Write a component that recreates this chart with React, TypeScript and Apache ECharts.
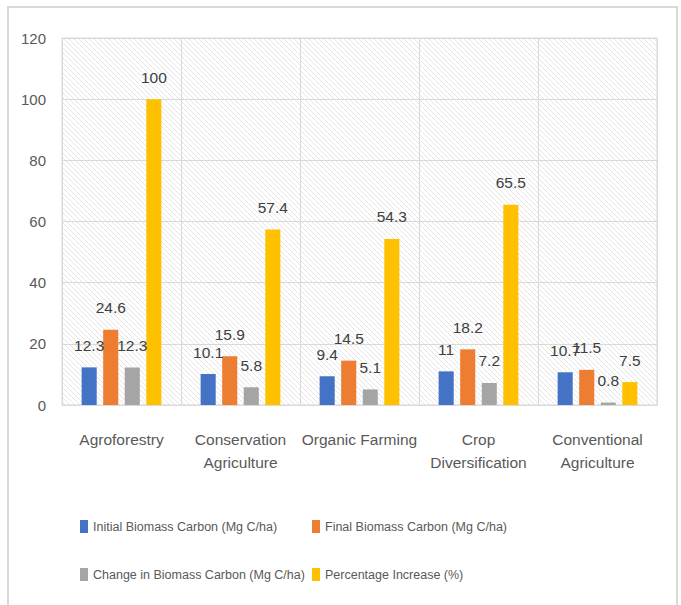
import React, { useEffect, useRef } from "react";
import * as echarts from "echarts";

const categories = ["Agroforestry", "Conservation Agriculture", "Organic Farming", "Crop Diversification", "Conventional Agriculture"];
const categoryTickLabels = ["Agroforestry", "Conservation\nAgriculture", "Organic Farming", "Crop\nDiversification", "Conventional\nAgriculture"];
const seriesNames = [
  "Initial Biomass Carbon (Mg C/ha)",
  "Final Biomass Carbon (Mg C/ha)",
  "Change in Biomass Carbon (Mg C/ha)",
  "Percentage Increase (%)",
];
const initialCarbon = [12.3, 10.1, 9.4, 11, 10.7];
const finalCarbon = [24.6, 15.9, 14.5, 18.2, 11.5];
const changeCarbon = [12.3, 5.8, 5.1, 7.2, 0.8];
const percentIncrease = [100, 57.4, 54.3, 65.5, 7.5];
const colors = ["#4472C4", "#ED7D31", "#A5A5A5", "#FFC000"];

const FONT = "'Liberation Sans', Arial, sans-serif";

const hatchSvg =
  "data:image/svg+xml;utf8," +
  encodeURIComponent(
    "<svg xmlns='http://www.w3.org/2000/svg' width='5' height='5'><rect width='5' height='5' fill='white'/><path d='M-1,-1 L6,6 M-1,4 L1,6 M4,-1 L6,1' stroke='#dedede' stroke-width='0.8'/></svg>"
  );

export default function App() {
  const ref = useRef<HTMLDivElement>(null);
  useEffect(() => {
    if (!ref.current) return;
    const chart = echarts.init(ref.current, null, { renderer: "svg" });
    const allData = [initialCarbon, finalCarbon, changeCarbon, percentIncrease];
    const legendBase = {
      orient: "vertical",
      top: 520,
      padding: 0,
      itemGap: 35,
      itemWidth: 8,
      itemHeight: 13,
      icon: "rect",
      textStyle: { fontFamily: FONT, fontSize: 12.5, color: "#595959" },
    };
    chart.setOption({
      animation: false,
      backgroundColor: "#ffffff",
      textStyle: { fontFamily: FONT },
      graphic: [
        {
          type: "rect",
          shape: { x: 8, y: 7, width: 669, height: 640 },
          style: { fill: "none", stroke: "#d9d9d9", lineWidth: 2 },
          silent: true,
        },
      ],
      grid: {
        left: 62,
        right: 24,
        top: 38,
        bottom: 200,
        show: true,
        borderColor: "#d9d9d9",
        borderWidth: 1,
        backgroundColor: { image: hatchSvg, repeat: "repeat", imageWidth: 5, imageHeight: 5 } as any,
      },
      legend: [
        { ...legendBase, left: 80, data: [seriesNames[0], seriesNames[2]] },
        { ...legendBase, left: 312, data: [seriesNames[1], seriesNames[3]] },
      ],
      xAxis: {
        type: "category",
        data: categories,
        axisLine: { show: true, lineStyle: { color: "#d9d9d9", width: 1 } },
        axisTick: { show: false },
        splitLine: { show: true, interval: 0, lineStyle: { color: "#d9d9d9", width: 1 } },
        axisLabel: {
          interval: 0,
          margin: 23,
          fontFamily: FONT,
          fontSize: 15.5,
          lineHeight: 23,
          color: "#595959",
          formatter: (_v: string, i: number) => categoryTickLabels[i],
        },
      },
      yAxis: {
        type: "value",
        min: 0,
        max: 120,
        interval: 20,
        axisLine: { show: false },
        axisTick: { show: false },
        splitLine: { show: true, lineStyle: { color: "#d9d9d9", width: 1 } },
        axisLabel: { margin: 16, fontFamily: FONT, fontSize: 15, color: "#595959" },
      },
      series: seriesNames.map((name, i) => ({
        name,
        type: "bar",
        data: allData[i],
        barGap: "43%",
        barCategoryGap: "33%",
        itemStyle: { color: colors[i] },
        label: {
          show: true,
          position: "top",
          distance: 14,
          fontFamily: FONT,
          fontSize: 15.5,
          color: "#404040",
        },
      })),
    });
    return () => chart.dispose();
  }, []);
  return (
    <div
      ref={ref}
      style={{ position: "absolute", left: 0, top: 0, width: 681, height: 605 }}
    />
  );
}
